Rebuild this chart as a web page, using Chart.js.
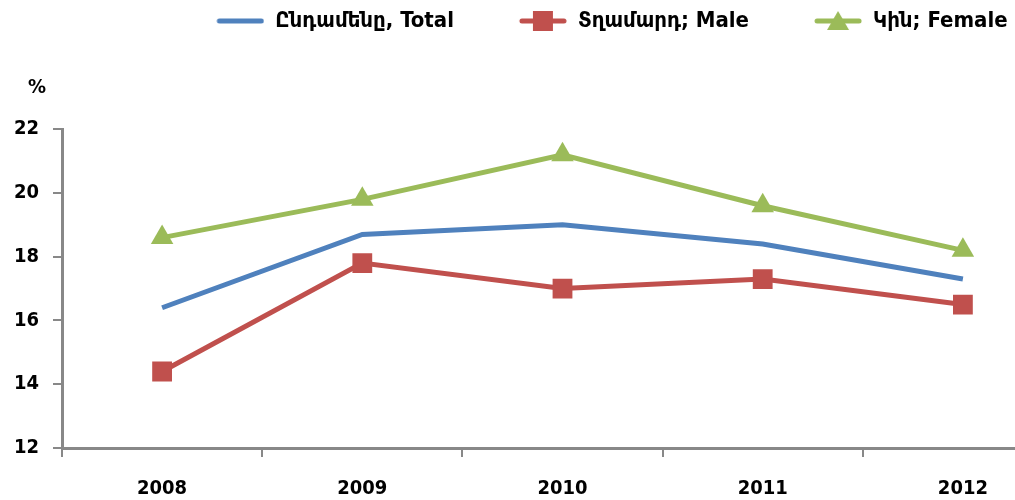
<!DOCTYPE html>
<html lang="en">
<head>
  <meta charset="UTF-8" />
  <title>Ընդամենը, Տղամարդ, Կին</title>
  <script src="https://cdn.jsdelivr.net/npm/chart.js"></script>
  <style>
    html, body {
      margin: 0;
      padding: 0;
      background: #fff;
      overflow: hidden;
    }
    canvas {
      display: block;
    }
  </style>
</head>
<body>
  <canvas id="chart" width="1077" height="500"></canvas>

  <script>
    const years = ['2008', '2009', '2010', '2011', '2012'];
    const total = [16.4, 18.7, 19.0, 18.4, 17.3];
    const male = [14.4, 17.8, 17.0, 17.3, 16.5];
    const female = [18.6, 19.8, 21.2, 19.6, 18.2];
    const seriesNames = ['Ընդամենը, Total', 'Տղամարդ; Male', 'Կին; Female'];
    const yMin = 12, yMax = 22, yStep = 2;

    const blue = '#4F81BD';
    const red = '#C0504D';
    const green = '#9BBB59';
    const font = "'Liberation Sans Narrow', 'DejaVu Sans Condensed', 'Noto Sans', sans-serif";

    const iconGap = 55, iconLine = 48;

    // legend icon: blank gap on the left, then a line with the marker in its middle
    function legendIcon(color, marker) {
      const c = document.createElement('canvas');
      c.width = iconGap + iconLine;
      c.height = 22;
      const ctx = c.getContext('2d');
      ctx.strokeStyle = color;
      ctx.lineWidth = 5;
      ctx.lineCap = 'round';
      ctx.beginPath();
      ctx.moveTo(iconGap + 3, 11);
      ctx.lineTo(iconGap + iconLine - 3, 11);
      ctx.stroke();
      ctx.fillStyle = color;
      const cx = iconGap + iconLine / 2;
      if (marker === 'rect') {
        ctx.fillRect(cx - 10, 1, 20, 20);
      } else if (marker === 'triangle') {
        ctx.beginPath();
        ctx.moveTo(cx, 1);
        ctx.lineTo(cx + 11, 20);
        ctx.lineTo(cx - 11, 20);
        ctx.closePath();
        ctx.fill();
      }
      return c;
    }

    const icons = [
      legendIcon(blue, null),
      legendIcon(red, 'rect'),
      legendIcon(green, 'triangle')
    ];

    const percentLabel = {
      id: 'percentLabel',
      afterDraw(chart) {
        const ctx = chart.ctx;
        ctx.save();
        ctx.font = 'bold 20px ' + font;
        ctx.fillStyle = '#000';
        ctx.textAlign = 'center';
        ctx.textBaseline = 'middle';
        ctx.fillText('%', 37, 88);
        ctx.restore();
      }
    };

    // move the legend row a bit to the right, as in the original
    const legendShift = {
      id: 'legendShift',
      afterLayout(chart) {
        chart.legend.left += 46;
        chart.legend.right += 46;
      }
    };

    new Chart(document.getElementById('chart'), {
      type: 'line',
      data: {
        labels: years,
        datasets: [
          {
            label: seriesNames[0],
            data: total,
            borderColor: blue,
            backgroundColor: blue,
            borderWidth: 5,
            pointRadius: 0,
            tension: 0
          },
          {
            label: seriesNames[1],
            data: male,
            borderColor: red,
            backgroundColor: red,
            borderWidth: 5,
            pointStyle: 'rect',
            pointRadius: 14,
            pointBorderWidth: 0,
            tension: 0
          },
          {
            label: seriesNames[2],
            data: female,
            borderColor: green,
            backgroundColor: green,
            borderWidth: 5,
            pointStyle: 'triangle',
            pointRadius: 13,
            pointBorderWidth: 0,
            tension: 0
          }
        ]
      },
      options: {
        responsive: false,
        animation: false,
        layout: { padding: 0 },
        plugins: {
          legend: {
            position: 'top',
            labels: {
              usePointStyle: true,
              pointStyleWidth: iconGap + iconLine,
              padding: 10,
              color: '#000',
              font: { family: font, size: 22, weight: 'bold' },
              generateLabels(chart) {
                return chart.data.datasets.map((ds, i) => ({
                  text: ds.label,
                  fillStyle: ds.borderColor,
                  strokeStyle: ds.borderColor,
                  lineWidth: 0,
                  pointStyle: icons[i],
                  datasetIndex: i,
                  hidden: false,
                  fontColor: '#000'
                }));
              }
            }
          },
          title: {
            display: true,
            text: '',
            weight: 0,
            font: { size: 1 },
            padding: { top: 0, bottom: 86 }
          },
          tooltip: { enabled: false }
        },
        scales: {
          x: {
            offset: true,
            afterFit(scale) { scale.height = 52; },
            border: { color: '#888', width: 3 },
            grid: {
              offset: true,
              drawOnChartArea: false,
              color: '#888',
              lineWidth: 2,
              tickLength: 9
            },
            ticks: {
              color: '#000',
              padding: 20,
              font: { family: font, size: 20, weight: 'bold' }
            }
          },
          y: {
            min: yMin,
            max: yMax,
            afterFit(scale) { scale.width = 62; },
            border: { color: '#888', width: 3 },
            grid: {
              drawOnChartArea: false,
              color: '#888',
              lineWidth: 2,
              tickLength: 9
            },
            ticks: {
              stepSize: yStep,
              color: '#000',
              padding: 14,
              font: { family: font, size: 20, weight: 'bold' }
            }
          }
        }
      },
      plugins: [percentLabel, legendShift]
    });
  </script>
</body>
</html>
